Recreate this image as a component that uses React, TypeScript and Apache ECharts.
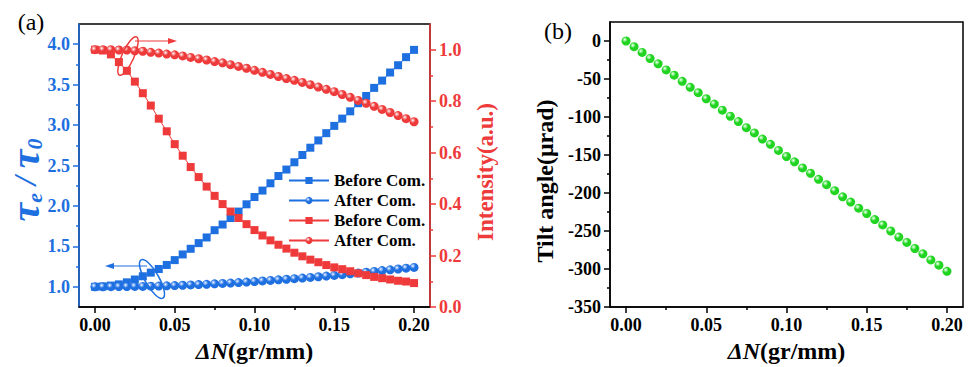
import React, { useEffect, useRef } from "react";
import * as echarts from "echarts";

const xValues = [0, 0.005, 0.01, 0.015, 0.02, 0.025, 0.03, 0.035, 0.04, 0.045, 0.05, 0.055, 0.06, 0.065, 0.07, 0.075, 0.08, 0.085, 0.09, 0.095, 0.1, 0.105, 0.11, 0.115, 0.12, 0.125, 0.13, 0.135, 0.14, 0.145, 0.15, 0.155, 0.16, 0.165, 0.17, 0.175, 0.18, 0.185, 0.19, 0.195, 0.2];

const tauBefore = [1.0, 1.005, 1.015, 1.03, 1.055, 1.09, 1.13, 1.175, 1.22, 1.27, 1.33, 1.4, 1.47, 1.54, 1.61, 1.7, 1.77, 1.85, 1.93, 2.02, 2.11, 2.19, 2.28, 2.37, 2.45, 2.54, 2.63, 2.72, 2.81, 2.9, 2.99, 3.08, 3.17, 3.27, 3.36, 3.46, 3.55, 3.65, 3.74, 3.84, 3.93];
const tauAfter = [1.0, 1.0, 1.001, 1.002, 1.003, 1.004, 1.005, 1.007, 1.009, 1.012, 1.015, 1.019, 1.023, 1.027, 1.031, 1.036, 1.041, 1.046, 1.052, 1.058, 1.065, 1.072, 1.079, 1.086, 1.093, 1.1, 1.108, 1.116, 1.124, 1.132, 1.14, 1.15, 1.16, 1.17, 1.18, 1.19, 1.2, 1.21, 1.22, 1.23, 1.24];
const intBefore = [1.0, 0.997, 0.982, 0.952, 0.918, 0.876, 0.831, 0.783, 0.732, 0.683, 0.633, 0.588, 0.544, 0.505, 0.468, 0.432, 0.4, 0.371, 0.346, 0.322, 0.299, 0.278, 0.259, 0.242, 0.227, 0.211, 0.197, 0.184, 0.174, 0.163, 0.154, 0.147, 0.139, 0.131, 0.124, 0.117, 0.112, 0.107, 0.102, 0.099, 0.093];
const intAfter = [1.0, 1.0, 1.0, 0.999, 0.999, 0.996, 0.994, 0.99, 0.987, 0.983, 0.98, 0.976, 0.97, 0.965, 0.96, 0.954, 0.949, 0.942, 0.935, 0.928, 0.92, 0.912, 0.904, 0.896, 0.888, 0.881, 0.873, 0.864, 0.855, 0.846, 0.837, 0.826, 0.815, 0.803, 0.792, 0.78, 0.768, 0.756, 0.744, 0.732, 0.72];
const tiltAngle = [0, -7.5, -15, -23, -30, -38, -45, -53, -61, -68, -76, -83, -91, -99, -106, -114, -121, -129, -136, -144, -152, -159, -167, -174, -182, -189, -197, -205, -212, -220, -227, -235, -242, -250, -258, -265, -273, -280, -288, -295, -303];

const xTicks = [0, 0.05, 0.1, 0.15, 0.2];
const xMinor = [0.025, 0.075, 0.125, 0.175];
const tauTicks = [1.0, 1.5, 2.0, 2.5, 3.0, 3.5, 4.0];
const tauMinor = [1.25, 1.75, 2.25, 2.75, 3.25, 3.75];
const intTicks = [0, 0.2, 0.4, 0.6, 0.8, 1.0];
const intMinor = [0.1, 0.3, 0.5, 0.7, 0.9];
const tiltTicks = [0, -50, -100, -150, -200, -250, -300, -350];
const tiltMinor = [-25, -75, -125, -175, -225, -275, -325];

const legendNames = ["tauBefore", "tauAfter", "intBefore", "intAfter"];
const legendLabels: Record<string, string> = {
  tauBefore: "Before Com.",
  tauAfter: "After Com.",
  intBefore: "Before Com.",
  intAfter: "After Com.",
};

const FONT = "Liberation Serif";
const BLUE = "#1E6FE0";
const RED = "#EE3A3A";
const GREEN = "#22D422";

const ball = (base: string, light: string) =>
  new echarts.graphic.RadialGradient(0.36, 0.34, 0.62, [
    { offset: 0, color: "#ffffff" },
    { offset: 0.18, color: light },
    { offset: 0.5, color: base },
    { offset: 1, color: base },
  ]);

const pairs = (ys: number[]) => xValues.map((x, i) => [x, ys[i]]);

export default function App() {
  const ref = useRef<HTMLDivElement>(null);

  useEffect(() => {
    if (!ref.current) return;
    const chart = echarts.init(ref.current, undefined, { renderer: "svg" });

    const tickLabel = (color: string) => ({
      color,
      fontSize: 18,
      fontWeight: "bold" as const,
      fontFamily: FONT,
      margin: 9,
    });

    const mainX = (g: number) => ({
      type: "value",
      gridIndex: g,
      min: -0.01,
      max: 0.21,
      position: "bottom",
      axisLine: { show: true, onZero: false, lineStyle: { color: "#000", width: 1.5 } },
      axisTick: { show: true, inside: false, length: 6, customValues: xTicks, lineStyle: { color: "#000", width: 1.5 } },
      axisLabel: { ...tickLabel("#000"), customValues: xTicks, formatter: (v: number) => v.toFixed(2) },
      splitLine: { show: false },
      name: "{i|ΔN}{b|(gr/mm)}",
      nameLocation: "middle",
      nameGap: 29,
      nameTextStyle: {
        fontFamily: FONT,
        rich: {
          i: { fontStyle: "italic", fontWeight: "bold", fontSize: 24, fontFamily: FONT, color: "#000" },
          b: { fontWeight: "bold", fontSize: 24, fontFamily: FONT, color: "#000" },
        },
      },
    });
    const minorX = (g: number) => ({
      type: "value",
      gridIndex: g,
      min: -0.01,
      max: 0.21,
      position: "bottom",
      axisLine: { show: false, onZero: false },
      axisTick: { show: true, inside: false, length: 3, customValues: xMinor, lineStyle: { color: "#000", width: 1.5 } },
      axisLabel: { show: false },
      splitLine: { show: false },
    });

    const valY = (
      g: number,
      pos: string,
      min: number,
      max: number,
      color: string,
      ticks: number[],
      fmt: (v: number) => string
    ) => ({
      type: "value",
      gridIndex: g,
      position: pos,
      min,
      max,
      axisLine: { show: true, onZero: false, lineStyle: { color, width: 1.5 } },
      axisTick: { show: true, inside: false, length: 6, customValues: ticks, lineStyle: { color, width: 1.5 } },
      axisLabel: { ...tickLabel(color), customValues: ticks, formatter: fmt },
      splitLine: { show: false },
    });
    const minorY = (g: number, pos: string, min: number, max: number, color: string, ticks: number[]) => ({
      type: "value",
      gridIndex: g,
      position: pos,
      min,
      max,
      axisLine: { show: false, onZero: false },
      axisTick: { show: true, inside: false, length: 3, customValues: ticks, lineStyle: { color, width: 1.5 } },
      axisLabel: { show: false },
      splitLine: { show: false },
    });

    const lineSeries = (
      name: string,
      xi: number,
      yi: number,
      ys: number[],
      symbol: string,
      size: number,
      lineColor: string,
      fill: any,
      z: number
    ) => ({
      type: "line",
      name,
      xAxisIndex: xi,
      yAxisIndex: yi,
      data: pairs(ys),
      symbol,
      symbolSize: size,
      showAllSymbol: true,
      lineStyle: { color: lineColor, width: 1 },
      itemStyle: { color: fill, borderWidth: 0 },
      z,
    });

    const option: any = {
      animation: false,
      backgroundColor: "#ffffff",
      textStyle: { fontFamily: FONT },
      grid: [
        { left: 79, right: 539, top: 24, bottom: 60, show: true, borderColor: "#000", borderWidth: 1.5, backgroundColor: "transparent", containLabel: false, outerBoundsMode: "none" },
        { left: 610, right: 6, top: 22, bottom: 60, show: true, borderColor: "#000", borderWidth: 1.5, backgroundColor: "transparent", containLabel: false, outerBoundsMode: "none" },
      ],
      xAxis: [mainX(0), minorX(0), mainX(1), minorX(1)],
      yAxis: [
        valY(0, "left", 0.75, 4.25, BLUE, tauTicks, (v) => v.toFixed(1)),
        valY(0, "right", 0, 1.1, RED, intTicks, (v) => v.toFixed(1)),
        minorY(0, "left", 0.75, 4.25, BLUE, tauMinor),
        minorY(0, "right", 0, 1.1, RED, intMinor),
        valY(1, "left", -350, 25, "#000", tiltTicks, (v) => String(v)),
        minorY(1, "left", -350, 25, "#000", tiltMinor),
      ],
      legend: {
        data: legendNames,
        orient: "vertical",
        left: 288,
        top: 172,
        padding: 0,
        itemWidth: 40,
        itemHeight: 9,
        itemGap: 3,
        formatter: (n: string) => legendLabels[n],
        textStyle: { color: "#000", fontSize: 17, fontWeight: "bold", fontFamily: FONT },
      },
      series: [
        lineSeries("tauBefore", 0, 0, tauBefore, "rect", 8, BLUE, BLUE, 2),
        lineSeries("tauAfter", 0, 0, tauAfter, "circle", 9, BLUE, ball(BLUE, "#9cc2fa"), 3),
        lineSeries("intBefore", 0, 1, intBefore, "rect", 8, RED, RED, 4),
        lineSeries("intAfter", 0, 1, intAfter, "circle", 9, RED, ball(RED, "#f7b0b0"), 5),
        {
          type: "line",
          name: "tilt",
          xAxisIndex: 2,
          yAxisIndex: 4,
          data: pairs(tiltAngle),
          symbol: "circle",
          symbolSize: 9,
          showAllSymbol: true,
          lineStyle: { width: 0, opacity: 0 },
          itemStyle: { color: ball(GREEN, "#a8f5a8") },
        },
      ],
      graphic: [
        {
          type: "text",
          x: 25,
          y: 180,
          rotation: Math.PI / 2,
          style: {
            text: "{t|τ}{s|e}{m| / }{t|τ}{s|0}",
            align: "center",
            verticalAlign: "middle",
            rich: {
              t: { fontSize: 42, fontStyle: "italic", fontWeight: "bold", fontFamily: FONT, fill: BLUE, lineHeight: 40, verticalAlign: "middle" },
              s: { fontSize: 22, fontStyle: "italic", fontWeight: "bold", fontFamily: FONT, fill: BLUE, lineHeight: 22, verticalAlign: "bottom" },
              m: { fontSize: 32, fontStyle: "italic", fontWeight: "bold", fontFamily: FONT, fill: BLUE, lineHeight: 40, verticalAlign: "middle" },
            },
          },
        },
        {
          type: "text",
          x: 485,
          y: 172,
          rotation: Math.PI / 2,
          style: { text: "Intensity(a.u.)", font: `bold 23px ${FONT}`, fill: RED, align: "center", verticalAlign: "middle" },
        },
        {
          type: "text",
          x: 545,
          y: 181,
          rotation: Math.PI / 2,
          style: { text: "Tilt angle(μrad)", font: `bold 24px ${FONT}`, fill: "#000", align: "center", verticalAlign: "middle" },
        },
        { type: "text", x: 31, y: 22, style: { text: "(a)", font: `24px ${FONT}`, fill: "#000", align: "center", verticalAlign: "middle" } },
        { type: "text", x: 558, y: 31, style: { text: "(b)", font: `24px ${FONT}`, fill: "#000", align: "center", verticalAlign: "middle" } },
        { type: "ellipse", x: 128, y: 56, rotation: -0.42, shape: { cx: 0, cy: 0, rx: 6, ry: 21 }, style: { fill: "none", stroke: RED, lineWidth: 1.5 }, z: 10 },
        { type: "line", shape: { x1: 135, y1: 41, x2: 172, y2: 41 }, style: { stroke: RED, lineWidth: 1.2 }, z: 10 },
        { type: "polygon", shape: { points: [[177, 41], [168, 38], [168, 44]] }, style: { fill: RED }, z: 10 },
        { type: "ellipse", x: 152, y: 279, rotation: 0.52, shape: { cx: 0, cy: 0, rx: 7, ry: 22 }, style: { fill: "none", stroke: BLUE, lineWidth: 1.5 }, z: 10 },
        { type: "line", shape: { x1: 147, y1: 266, x2: 110, y2: 266 }, style: { stroke: BLUE, lineWidth: 1.2 }, z: 10 },
        { type: "polygon", shape: { points: [[105, 266], [114, 263], [114, 269]] }, style: { fill: BLUE }, z: 10 },
      ],
    };

    chart.setOption(option);
    return () => {
      chart.dispose();
    };
  }, []);

  return (
    <div
      ref={ref}
      style={{ position: "absolute", left: 0, top: 0, width: 969, height: 367, background: "#fff" }}
    />
  );
}
